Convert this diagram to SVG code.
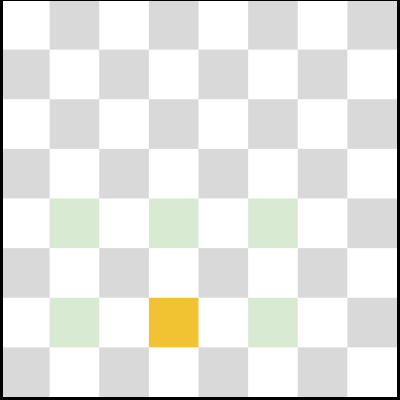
<svg xmlns="http://www.w3.org/2000/svg" width="400" height="400" viewBox="0 0 400 400">
<style>
.g{fill:#d9d9d9}
.l{fill:#d9ead3}
.y{fill:#f1c232}
.b{fill:#000000}
</style>
<rect x="0" y="0" width="400" height="400" fill="#ffffff"/>
<g id="board">
<rect class="g" x="49.625" y="0" width="49.625" height="49.625"/>
<rect class="g" x="148.875" y="0" width="49.625" height="49.625"/>
<rect class="g" x="248.125" y="0" width="49.625" height="49.625"/>
<rect class="g" x="347.375" y="0" width="49.625" height="49.625"/>
<rect class="g" x="0" y="49.625" width="49.625" height="49.625"/>
<rect class="g" x="99.25" y="49.625" width="49.625" height="49.625"/>
<rect class="g" x="198.5" y="49.625" width="49.625" height="49.625"/>
<rect class="g" x="297.75" y="49.625" width="49.625" height="49.625"/>
<rect class="g" x="49.625" y="99.25" width="49.625" height="49.625"/>
<rect class="g" x="148.875" y="99.25" width="49.625" height="49.625"/>
<rect class="g" x="248.125" y="99.25" width="49.625" height="49.625"/>
<rect class="g" x="347.375" y="99.25" width="49.625" height="49.625"/>
<rect class="g" x="0" y="148.875" width="49.625" height="49.625"/>
<rect class="g" x="99.25" y="148.875" width="49.625" height="49.625"/>
<rect class="g" x="198.5" y="148.875" width="49.625" height="49.625"/>
<rect class="g" x="297.75" y="148.875" width="49.625" height="49.625"/>
<rect class="l" x="49.625" y="198.5" width="49.625" height="49.625"/>
<rect class="l" x="148.875" y="198.5" width="49.625" height="49.625"/>
<rect class="l" x="248.125" y="198.5" width="49.625" height="49.625"/>
<rect class="g" x="347.375" y="198.5" width="49.625" height="49.625"/>
<rect class="g" x="0" y="248.125" width="49.625" height="49.625"/>
<rect class="g" x="99.25" y="248.125" width="49.625" height="49.625"/>
<rect class="g" x="198.5" y="248.125" width="49.625" height="49.625"/>
<rect class="g" x="297.75" y="248.125" width="49.625" height="49.625"/>
<rect class="l" x="49.625" y="297.75" width="49.625" height="49.625"/>
<rect class="y" x="148.875" y="297.75" width="49.625" height="49.625"/>
<rect class="l" x="248.125" y="297.75" width="49.625" height="49.625"/>
<rect class="g" x="347.375" y="297.75" width="49.625" height="49.625"/>
<rect class="g" x="0" y="347.375" width="49.625" height="49.625"/>
<rect class="g" x="99.25" y="347.375" width="49.625" height="49.625"/>
<rect class="g" x="198.5" y="347.375" width="49.625" height="49.625"/>
<rect class="g" x="297.75" y="347.375" width="49.625" height="49.625"/>
</g>
<g id="frame">
<rect class="b" x="0" y="0" width="3" height="400"/>
<rect class="b" x="397" y="0" width="3" height="400"/>
<rect class="b" x="0" y="0" width="400" height="1"/>
<rect class="b" x="0" y="397" width="400" height="3"/>
</g>
</svg>
